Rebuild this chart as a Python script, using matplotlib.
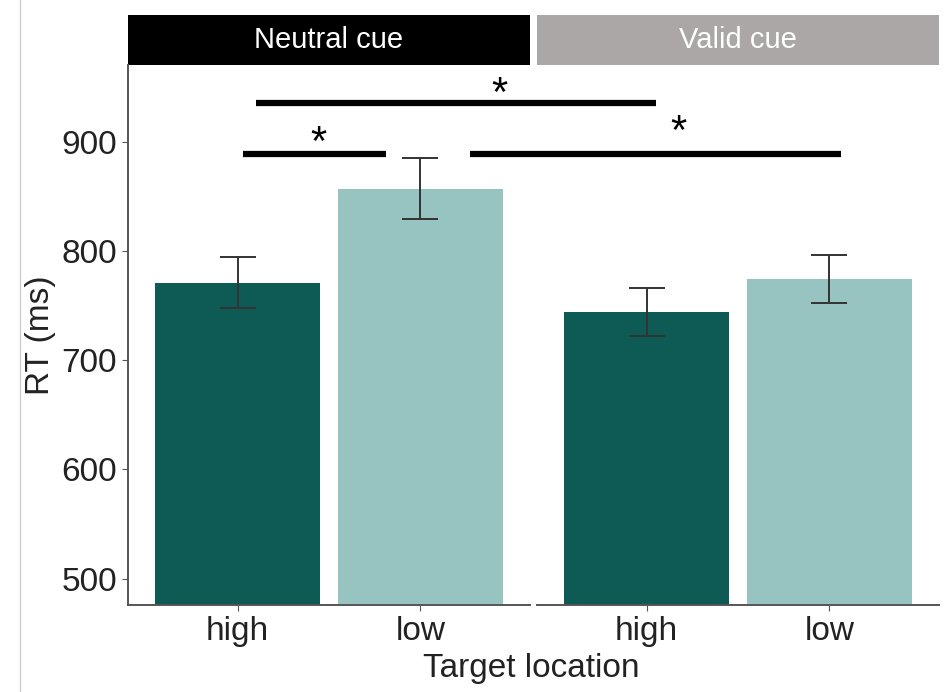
import numpy as np
import matplotlib.pyplot as plt
from matplotlib.lines import Line2D

plt.rcParams['font.family'] = ['Liberation Sans', 'DejaVu Sans']

# DATA
cues = ["Neutral cue", "Valid cue"]
locations = ["high", "low"]
rt_neutral = [771, 857]
rt_valid = [744, 774]
se_neutral = [23, 28]
se_valid = [22, 22]

dark = "#0d5b54"
light = "#97c4c1"
strip_colors = ["#000000", "#aaa7a6"]

fig = plt.figure(figsize=(9.46, 6.92), dpi=100)
bottom = 87 / 692
height = 540 / 692
ax1 = fig.add_axes([128 / 946, bottom, 402 / 946, height])
ax2 = fig.add_axes([537 / 946, bottom, 402 / 946, height])
ax2.patch.set_visible(False)
ax1.set_zorder(3)
ax1.patch.set_visible(False)

x = np.arange(1, len(locations) + 1)
for ax, vals, errs in [(ax1, rt_neutral, se_neutral), (ax2, rt_valid, se_valid)]:
    ax.bar(x, vals, width=0.9, color=[dark, light], zorder=2)
    ax.errorbar(x, vals, yerr=errs, fmt="none", ecolor="#333333",
                elinewidth=1.4, capsize=13, capthick=1.4, zorder=3)
    ax.set_xlim(0.4, 2.6)
    ax.set_ylim(476, 970)
    ax.set_xticks(x)
    ax.set_xticklabels(locations, fontsize=24)
    for s in ["top", "right"]:
        ax.spines[s].set_visible(False)
    ax.spines["bottom"].set_color("#555555")
    ax.spines["bottom"].set_linewidth(1.4)
    ax.tick_params(axis="x", length=4, color="#555555", pad=4, labelcolor="#222222")

ax1.set_yticks([500, 600, 700, 800, 900])
ax1.tick_params(axis="y", labelsize=24, length=4, color="#555555", pad=4, labelcolor="#222222")
ax1.spines["left"].set_color("#555555")
ax1.spines["left"].set_linewidth(1.4)
ax1.set_ylabel("RT (ms)", fontsize=24, color="#222222", labelpad=4)
ax2.spines["left"].set_visible(False)
ax2.set_yticks([])

# facet strips
for ax, lab, col in zip([ax1, ax2], cues, strip_colors):
    pos = ax.get_position()
    strip = fig.add_axes([pos.x0, pos.y1, pos.width, 50 / 692])
    strip.set_facecolor(col)
    strip.set_xticks([])
    strip.set_yticks([])
    for s in strip.spines.values():
        s.set_visible(False)
    strip.text(0.5, 0.5, lab, color="white", fontsize=21, ha="center", va="center",
               transform=strip.transAxes)

# significance bars (left panel data coordinates)
sig = [(1.10, 3.29, 935, 2.43, 943), (1.03, 1.81, 889, 1.44, 898), (2.27, 4.30, 889, 3.41, 908)]
for x1, x2, y, sx, sy in sig:
    ax1.plot([x1, x2], [y, y], color="black", lw=4.5, solid_capstyle="butt",
             clip_on=False, zorder=5)
    ax1.text(sx, sy, "*", fontsize=30, ha="center", va="center", clip_on=False)

fig.text(531 / 946, (692 - 668) / 692, "Target location", fontsize=24,
         ha="center", va="center", color="#222222")
fig.add_artist(Line2D([20 / 946, 20 / 946], [0, 1], color="#cccccc", lw=1))

fig.savefig("out.png", dpi=100)
